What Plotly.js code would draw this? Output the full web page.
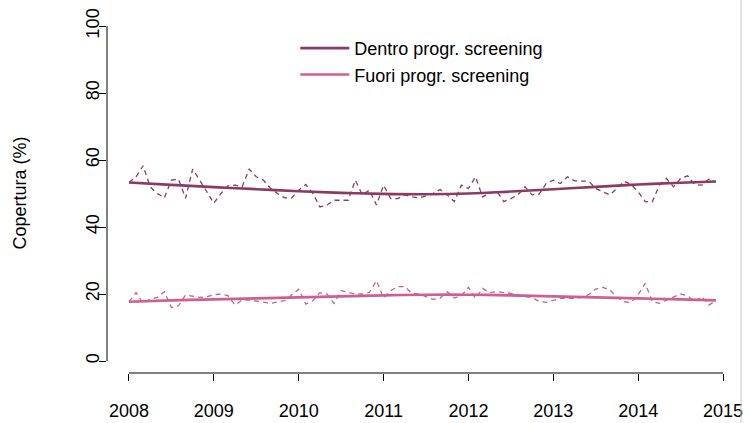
<!DOCTYPE html>
<html>
<head>
<meta charset="utf-8">
<script src="https://cdn.plot.ly/plotly-3.0.1.min.js"></script>
<style>html,body{margin:0;padding:0;background:#fff;}#chart{width:749px;height:423px;}</style>
</head>
<body>
<div id="chart"></div>
<script>
// Monthly observations, Jan 2008 .. Dec 2014
const startYear = 2008;
const dentroMonthly = [53.3,55,58.3,52,50,48.7,54,54.3,48.6,57.3,54,50.5,
  47.1,50,52.3,52.5,52,57.3,55,54,51.6,50,48.7,48.7,
  51,52.7,50,46,46.6,48,48,48,54,49.6,51,46.6,
  52.5,48.5,48.5,49.6,49,48.7,49.3,50,51.2,49.6,47.6,52.5,
  51.5,55,49,50,50.7,47.6,48.5,49.6,52,49.6,49.8,53,
  54,53,55,53.8,53.7,53.7,51.5,50.5,49.6,51.5,53.7,52.7,
  50.5,47.6,47.5,52.5,54.5,52,54.5,55.3,52.7,52.5,54.3,53.5];
const fuoriMonthly = [17.7,20.4,17.2,18.5,19,20.7,16,16.5,19.7,19.4,19,19.2,
  19.8,20,19.5,16.7,18.2,18.2,18,17.6,17.2,17.5,18,19.7,
  21.4,17,18,20.4,20,17.2,21,20.5,20,20,20.5,24,
  18.8,21,22.2,22.2,20.2,20,19.2,18.4,18.8,20.7,18.8,19.5,
  22,18.7,21.7,20.4,20.7,20.5,20.2,19.7,19.2,19,17.8,17.5,
  18.2,18.7,18.7,18.7,19,19.8,21.5,22,21.2,19,17.7,17.4,
  19.8,23.2,17.7,17.2,18.2,19.2,20,19.5,17.7,19.2,16.7,18];
// Smoothed trend (read at half-year points)
const trendX = [2008,2008.5,2009,2009.5,2010,2010.5,2011,2011.5,2012,2012.5,2013,2013.5,2014,2014.5,2014.917];
const dentroTrend = [53.3,52.6,51.9,51.3,50.7,50.2,49.9,49.8,50.0,50.6,51.3,52.0,52.7,53.2,53.6];
const fuoriTrend = [17.7,18.1,18.4,18.7,19.0,19.3,19.6,19.8,19.8,19.6,19.3,19.0,18.7,18.4,18.1];
const xTicks = [2008,2009,2010,2011,2012,2013,2014,2015];
const yTicks = [0,20,40,60,80,100];
const names = ['Dentro progr. screening','Fuori progr. screening'];

const monthX = dentroMonthly.map((_, i) => startYear + i/12);
const cDentro = '#8B3A62', cFuori = '#CD6090';
const FONT = 'Liberation Sans, Arial, sans-serif';

const traces = [
  {x: monthX, y: dentroMonthly, mode:'lines', line:{color:cDentro, width:1.3, dash:'5px,4px'}, showlegend:false, hoverinfo:'skip'},
  {x: monthX, y: fuoriMonthly, mode:'lines', line:{color:cFuori, width:1.3, dash:'5px,4px'}, showlegend:false, hoverinfo:'skip'},
  {x: trendX, y: dentroTrend, mode:'lines', name:names[0], line:{color:cDentro, width:2.6, shape:'spline'}},
  {x: trendX, y: fuoriTrend, mode:'lines', name:names[1], line:{color:cFuori, width:2.6, shape:'spline'}}
];

const layout = {
  width:749, height:423,
  margin:{l:107, r:8, t:13, b:50},
  paper_bgcolor:'#fff', plot_bgcolor:'#fff',
  font:{family:FONT, size:18, color:'#000'},
  showlegend:true,
  legend:{x:0.297, y:0.953, xanchor:'left', yanchor:'top', bgcolor:'rgba(0,0,0,0)',
          font:{family:FONT, size:18, color:'#000'}, tracegroupgap:0, itemwidth:49},
  xaxis:{range:[2007.741, 2015.212], tickvals:xTicks, ticktext:xTicks.map(String),
         showgrid:false, zeroline:false, showline:false, ticks:'outside', ticklen:7,
         tickwidth:1, tickcolor:'#000', ticklabelstandoff:14, tickfont:{family:FONT,size:18,color:'#000'}},
  yaxis:{range:[-3.58, 103.9], tickvals:yTicks, ticktext:yTicks.map(String), tickangle:-90,
         showgrid:false, zeroline:false, showline:false, ticks:'outside', ticklen:7,
         tickwidth:1, tickcolor:'#000', ticklabelstandoff:-7, tickfont:{family:FONT,size:18,color:'#000'},
         title:{text:'Copertura (%)', font:{family:FONT,size:18,color:'#000'}, standoff:51}},
  shapes:[
    {type:'line', xref:'x', yref:'paper', x0:xTicks[0], x1:xTicks[xTicks.length-1], y0:0, y1:0, line:{color:'#000', width:1}},
    {type:'line', xref:'paper', yref:'y', x0:0, x1:0, y0:yTicks[0], y1:yTicks[yTicks.length-1], line:{color:'#000', width:1}},
    {type:'line', xref:'paper', yref:'paper', x0:1, x1:1, y0:-0.14, y1:1.04, line:{color:'#c8c8c8', width:1}}
  ]
};

Plotly.newPlot('chart', traces, layout, {staticPlot:true, displayModeBar:false});
</script>
</body>
</html>
